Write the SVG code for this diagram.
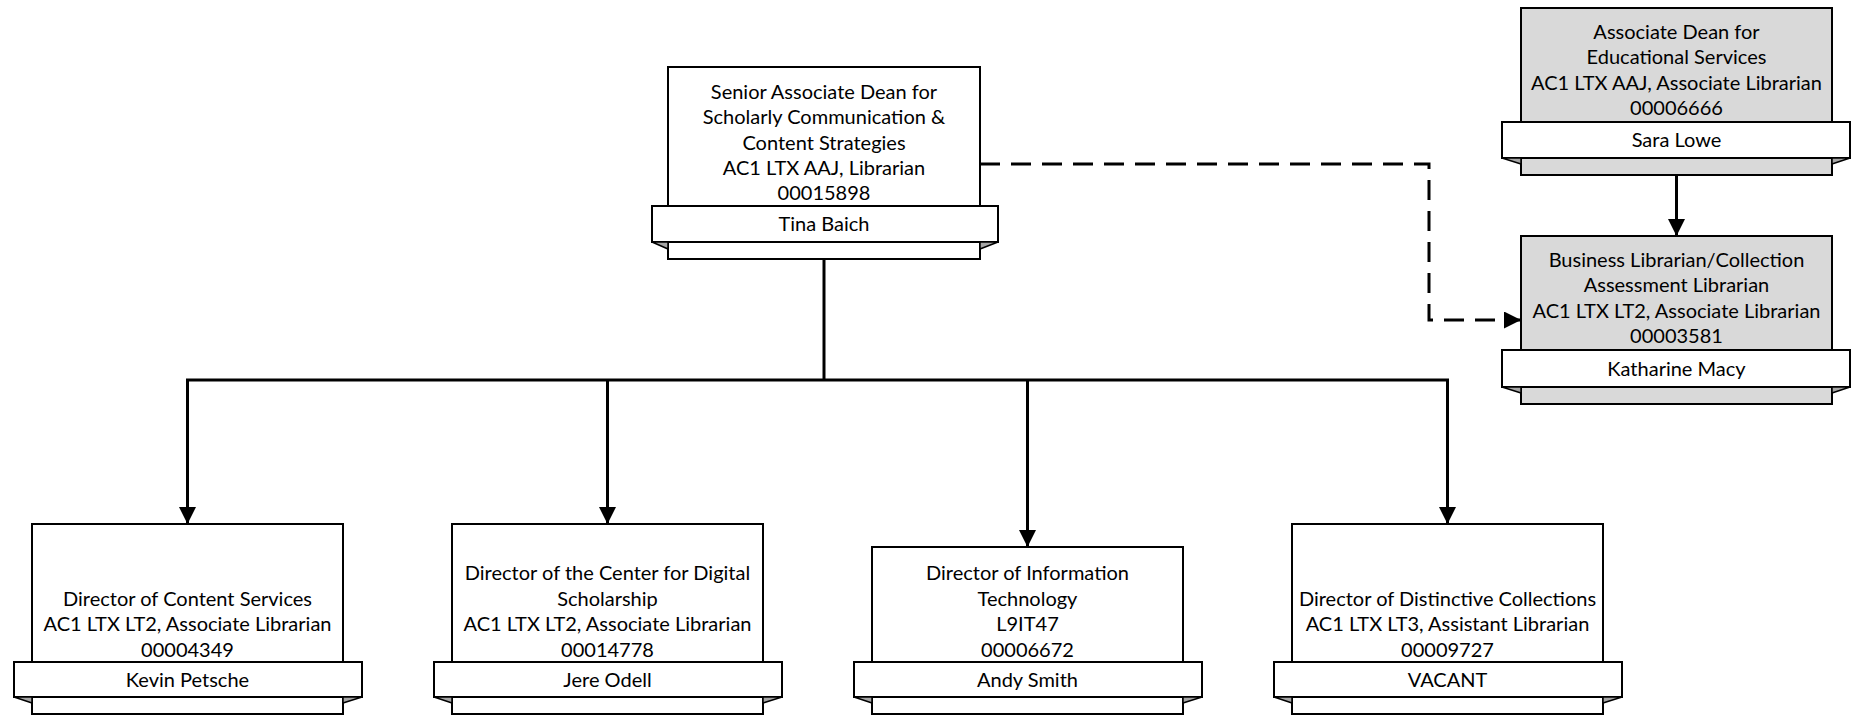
<svg xmlns="http://www.w3.org/2000/svg" width="1856" height="716" viewBox="0 0 1856 716">
<defs>
<style>
.box{fill:#ffffff;stroke:#000;stroke-width:2}
.gbox{fill:#d9d9d9;stroke:#000;stroke-width:2}
.band{fill:#ffffff;stroke:#000;stroke-width:2}
.fold{fill:#a6a6a6;stroke:#000;stroke-width:1.5;stroke-linejoin:round}
text{font-family:Lato,"Liberation Sans",sans-serif;font-size:20px;fill:#000;text-anchor:middle}
.ln{fill:none;stroke:#000;stroke-width:3}
.dash{fill:none;stroke:#000;stroke-width:3;stroke-dasharray:20 11}
</style>
<marker id="ah" markerUnits="userSpaceOnUse" markerWidth="18" markerHeight="18" refX="17" refY="8.5" orient="auto">
<path d="M0,0 L17,8.5 L0,17 z" fill="#000"/>
</marker>
</defs>
<rect width="1856" height="716" fill="#fff"/>

<g id="connectors">
<path class="ln" d="M824,259 V380"/>
<path class="ln" d="M186,380 H1449"/>
<path class="ln" d="M187.5,380 V524" marker-end="url(#ah)"/>
<path class="ln" d="M607.5,380 V524" marker-end="url(#ah)"/>
<path class="ln" d="M1027.5,380 V547" marker-end="url(#ah)"/>
<path class="ln" d="M1447.5,380 V524" marker-end="url(#ah)"/>
<path class="ln" d="M1676.5,175 V236" marker-end="url(#ah)"/>
<path class="dash" d="M980,164 H1429 V320 H1521" marker-end="url(#ah)"/>
</g>

<g id="node-senior">
<rect class="box" x="668" y="67" width="312" height="192"/>
<rect class="band" x="652" y="206" width="346" height="36"/>
<polygon class="fold" points="652,242 668,242 668,249"/>
<polygon class="fold" points="998,242 980,242 980,249"/>
<text x="824" y="98.5">Senior Associate Dean for</text>
<text x="824" y="124">Scholarly Communication &amp;</text>
<text x="824" y="149.5">Content Strategies</text>
<text x="824" y="175">AC1 LTX AAJ, Librarian</text>
<text x="824" y="200">00015898</text>
<text x="824" y="231">Tina Baich</text>
</g>

<g id="node-assocdean">
<rect class="gbox" x="1521" y="8" width="311" height="167"/>
<rect class="band" x="1502" y="122" width="348" height="36"/>
<polygon class="fold" points="1502,158 1521,158 1521,164"/>
<polygon class="fold" points="1850,158 1832,158 1832,164"/>
<text x="1676.5" y="38.8">Associate Dean for</text>
<text x="1676.5" y="64.2">Educational Services</text>
<text x="1676.5" y="89.6">AC1 LTX AAJ, Associate Librarian</text>
<text x="1676.5" y="115">00006666</text>
<text x="1676.5" y="146.5">Sara Lowe</text>
</g>

<g id="node-business">
<rect class="gbox" x="1521" y="236" width="311" height="168"/>
<rect class="band" x="1502" y="350" width="348" height="37"/>
<polygon class="fold" points="1502,387 1521,387 1521,393"/>
<polygon class="fold" points="1850,387 1832,387 1832,393"/>
<text x="1676.5" y="266.8">Business Librarian/Collection</text>
<text x="1676.5" y="292.2">Assessment Librarian</text>
<text x="1676.5" y="317.6">AC1 LTX LT2, Associate Librarian</text>
<text x="1676.5" y="343">00003581</text>
<text x="1676.5" y="375.5">Katharine Macy</text>
</g>

<g id="node-content">
<rect class="box" x="32" y="524" width="311" height="190"/>
<rect class="band" x="14" y="662" width="348" height="35"/>
<polygon class="fold" points="14,697 32,697 32,703"/>
<polygon class="fold" points="362,697 343,697 343,703"/>
<text x="187.5" y="605.8">Director of Content Services</text>
<text x="187.5" y="631.2">AC1 LTX LT2, Associate Librarian</text>
<text x="187.5" y="656.6">00004349</text>
<text x="187.5" y="686.5">Kevin Petsche</text>
</g>

<g id="node-digital">
<rect class="box" x="452" y="524" width="311" height="190"/>
<rect class="band" x="434" y="662" width="348" height="35"/>
<polygon class="fold" points="434,697 452,697 452,703"/>
<polygon class="fold" points="782,697 763,697 763,703"/>
<text x="607.5" y="580.4">Director of the Center for Digital</text>
<text x="607.5" y="605.8">Scholarship</text>
<text x="607.5" y="631.2">AC1 LTX LT2, Associate Librarian</text>
<text x="607.5" y="656.6">00014778</text>
<text x="607.5" y="686.5">Jere Odell</text>
</g>

<g id="node-it">
<rect class="box" x="872" y="547" width="311" height="167"/>
<rect class="band" x="854" y="662" width="348" height="35"/>
<polygon class="fold" points="854,697 872,697 872,703"/>
<polygon class="fold" points="1202,697 1183,697 1183,703"/>
<text x="1027.5" y="580.4">Director of Information</text>
<text x="1027.5" y="605.8">Technology</text>
<text x="1027.5" y="631.2">L9IT47</text>
<text x="1027.5" y="656.6">00006672</text>
<text x="1027.5" y="686.5">Andy Smith</text>
</g>

<g id="node-distinctive">
<rect class="box" x="1292" y="524" width="311" height="190"/>
<rect class="band" x="1274" y="662" width="348" height="35"/>
<polygon class="fold" points="1274,697 1292,697 1292,703"/>
<polygon class="fold" points="1622,697 1603,697 1603,703"/>
<text x="1447.5" y="605.8">Director of Distinctive Collections</text>
<text x="1447.5" y="631.2">AC1 LTX LT3, Assistant Librarian</text>
<text x="1447.5" y="656.6">00009727</text>
<text x="1447.5" y="686.5">VACANT</text>
</g>
</svg>
